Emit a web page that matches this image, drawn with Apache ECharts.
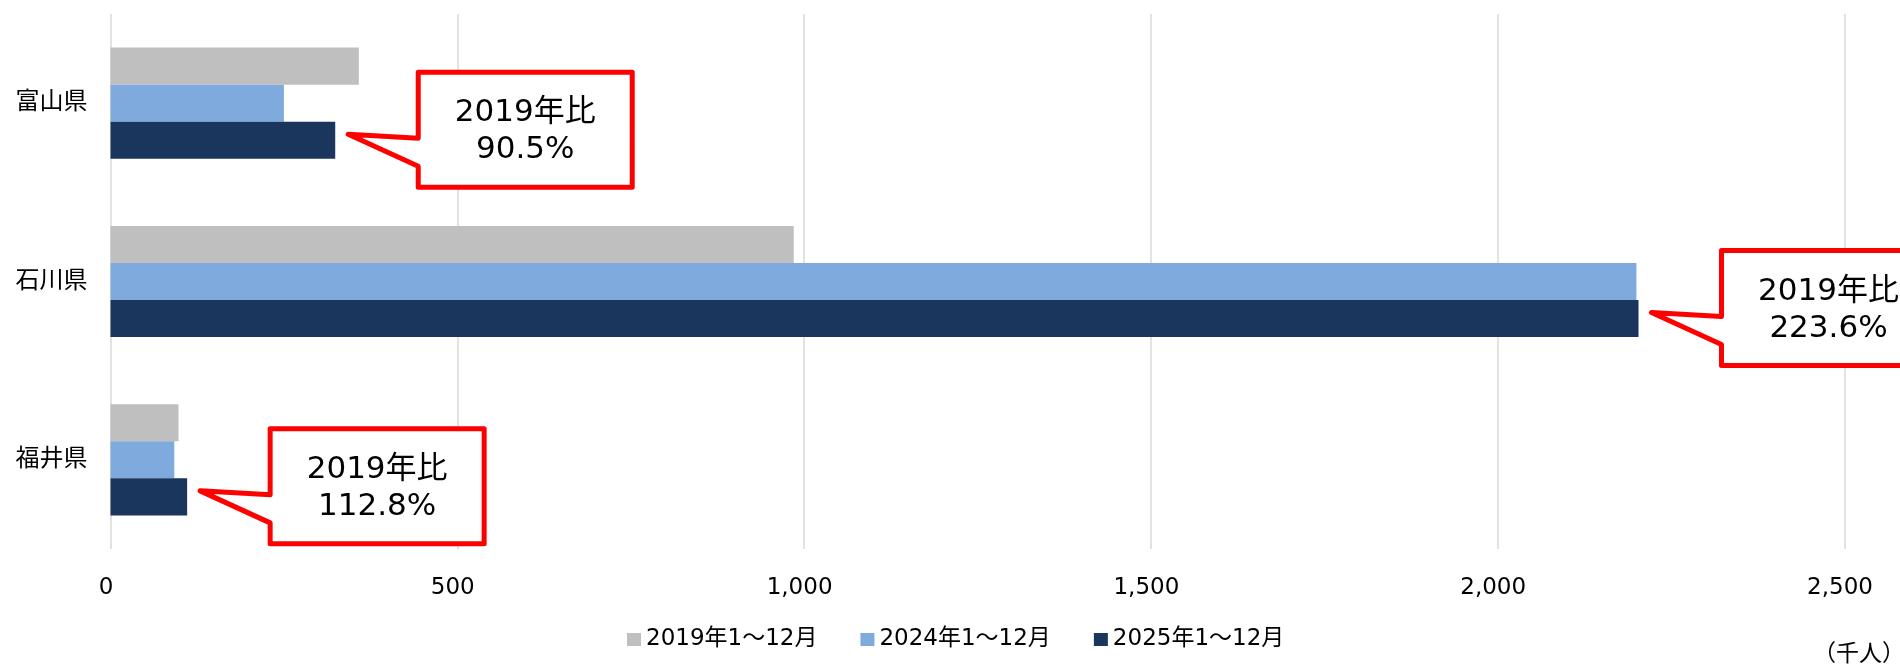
<!DOCTYPE html>
<html>
<head>
<meta charset="utf-8">
<script src="https://cdn.jsdelivr.net/npm/echarts@6/dist/echarts.min.js"></script>
<style>
html, body { margin: 0; padding: 0; background: #fff; }
#main { width: 1900px; height: 664px; }
</style>
</head>
<body>
<div id="main"></div>
<script>
var categories = ['富山県', '石川県', '福井県'];
var seriesNames = ['2019年1～12月', '2024年1～12月', '2025年1～12月'];
var values2019 = [358, 985, 98];
var values2024 = [250, 2200, 92];
var values2025 = [324, 2203, 110.5];
var ratioLabels = ['90.5%', '223.6%', '112.8%'];
var colors = ['#BFBFBF', '#7FAADD', '#1A365D'];

var FONT = "'DejaVu Sans', 'Noto Sans CJK JP', sans-serif";
var GAP = 0.377;

var myChart = echarts.init(document.getElementById('main'));

// callout box pointing at the end of the 2025 bar
function renderCallout(params, api)
{
    var pt = api.coord([api.value(0), api.value(1)]);
    var band = api.size([0, 1])[1];
    var barW = band * (1 - GAP) / 3;
    var ex = pt[0];
    var ey = pt[1] + barW;
    var W = 214, H = 115;
    var L = ex + 83;
    var T = ey - 68;
    return {
        type: 'group',
        children: [
            {
                type: 'polygon',
                shape: {
                    points: [
                        [L, T], [L + W, T], [L + W, T + H], [L, T + H],
                        [L, T + 94], [ex + 13, ey - 6], [L, T + 66]
                    ]
                },
                style: { fill: '#fff', stroke: '#FF0000', lineWidth: 5, lineJoin: 'round' }
            },
            {
                type: 'text',
                x: L + W / 2,
                y: T + H / 2 + 2,
                style: {
                    text: '2019年比\n' + ratioLabels[params.dataIndex],
                    fill: '#000',
                    fontSize: 31,
                    fontFamily: FONT,
                    lineHeight: 37,
                    align: 'center',
                    verticalAlign: 'middle'
                }
            }
        ]
    };
}

var calloutData = [];
for (var i = 0; i < categories.length; i++)
{
    calloutData.push([values2025[i], i]);
}

option =
{
    animation: false,
    textStyle: { fontFamily: FONT },
    grid:
    {
        left: 110.5,
        right: 55.5,
        top: 14,
        bottom: 115
    },
    legend:
    {
        data: seriesNames,
        left: 622,
        top: 623,
        icon: 'rect',
        itemWidth: 14,
        itemHeight: 13,
        itemGap: 43,
        textStyle: { fontSize: 23, color: '#000', fontFamily: FONT }
    },
    xAxis:
    {
        type: 'value',
        min: 0,
        max: 2500,
        interval: 500,
        axisLine: { show: false },
        axisTick: { show: false },
        axisLabel:
        {
            fontSize: 23,
            color: '#000',
            margin: 28,
            padding: [0, 9, 0, 0],
            formatter: function (v) { return v.toLocaleString('en-US'); }
        },
        splitLine: { lineStyle: { color: '#D9D9D9', width: 1.5 } }
    },
    yAxis:
    {
        type: 'category',
        data: categories,
        inverse: true,
        axisLine: { show: false },
        axisTick: { show: false },
        axisLabel: { fontSize: 24, color: '#000', margin: 23 }
    },
    graphic:
    [
        {
            type: 'text',
            left: 1813,
            top: 644,
            style: { text: '（千人）', fontSize: 23, fontFamily: FONT, fill: '#000' }
        }
    ],
    series:
    [
        {
            name: seriesNames[0],
            type: 'bar',
            data: values2019,
            itemStyle: { color: colors[0] },
            barGap: 0,
            barCategoryGap: (GAP * 100) + '%'
        },
        {
            name: seriesNames[1],
            type: 'bar',
            data: values2024,
            itemStyle: { color: colors[1] }
        },
        {
            name: seriesNames[2],
            type: 'bar',
            data: values2025,
            itemStyle: { color: colors[2] }
        },
        {
            name: 'callout',
            type: 'custom',
            data: calloutData,
            renderItem: renderCallout,
            clip: false,
            z: 10,
            silent: true
        }
    ]
};

myChart.setOption(option);
</script>
</body>
</html>
